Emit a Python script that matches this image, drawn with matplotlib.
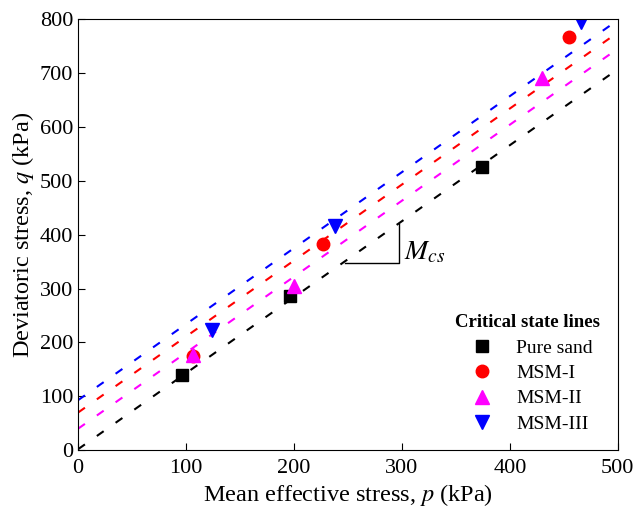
import matplotlib
matplotlib.use("Agg")
import matplotlib.pyplot as plt
import numpy as np

plt.rcParams['font.family'] = ['Liberation Serif', 'DejaVu Serif']
plt.rcParams['mathtext.fontset'] = 'stix'

# data
series = ['Pure sand', 'MSM-I', 'MSM-II', 'MSM-III']
colors = ['black', 'red', 'magenta', 'blue']
markers = ['s', 'o', '^', 'v']
p_pure = [96, 196, 374]
q_pure = [139, 287, 525]
p_msm1 = [106, 227, 455]
q_msm1 = [175, 383, 766]
p_msm2 = [106, 200, 430]
q_msm2 = [176, 305, 690]
p_msm3 = [124, 238, 466]
q_msm3 = [223, 416, 795]
# critical state lines q = M*p + c
slopes = [1.41, 1.41, 1.41, 1.41]
intercepts = [2, 70, 40, 93]

p_all = [p_pure, p_msm1, p_msm2, p_msm3]
q_all = [q_pure, q_msm1, q_msm2, q_msm3]

fig = plt.figure(figsize=(6.35, 5.14), dpi=100)
ax = fig.add_axes([0.123, 0.124, 0.850, 0.839])

pp = np.array([0, 500])
for i in range(4):
    ax.plot(pp, slopes[i] * pp + intercepts[i], color=colors[i], lw=1.5,
            linestyle=(0, (4, 7)))

sizes = [8, 9, 9.5, 9.5]
for i in range(4):
    ax.plot(p_all[i], q_all[i], linestyle='none', marker=markers[i],
            color=colors[i], markersize=sizes[i], label=series[i])

# slope indicator
ax.plot([247, 297, 297], [347, 347, 419], color='black', lw=1)
ax.text(302, 366, '$M_{cs}$', fontsize=20, va='center', ha='left')

ax.set_xlim(0, 500)
ax.set_ylim(0, 800)
ax.set_xticks([0, 100, 200, 300, 400, 500])
ax.set_yticks([0, 100, 200, 300, 400, 500, 600, 700, 800])
ax.tick_params(direction='in', labelsize=16, length=5)
ax.tick_params(axis='x', pad=6.5)
ax.set_xlabel('Mean effective stress, $p$ (kPa)', fontsize=17.5, labelpad=3)
ax.set_ylabel('Deviatoric stress, $q$ (kPa)', fontsize=17.5, labelpad=3)

leg = ax.legend(title='Critical state lines', loc='lower right',
                frameon=False, fontsize=14, title_fontsize=13.5,
                handletextpad=0.75, labelspacing=0.4,
                bbox_to_anchor=(1.0, 0.0))
leg.get_title().set_fontweight('bold')

fig.savefig('out.png', dpi=100)
